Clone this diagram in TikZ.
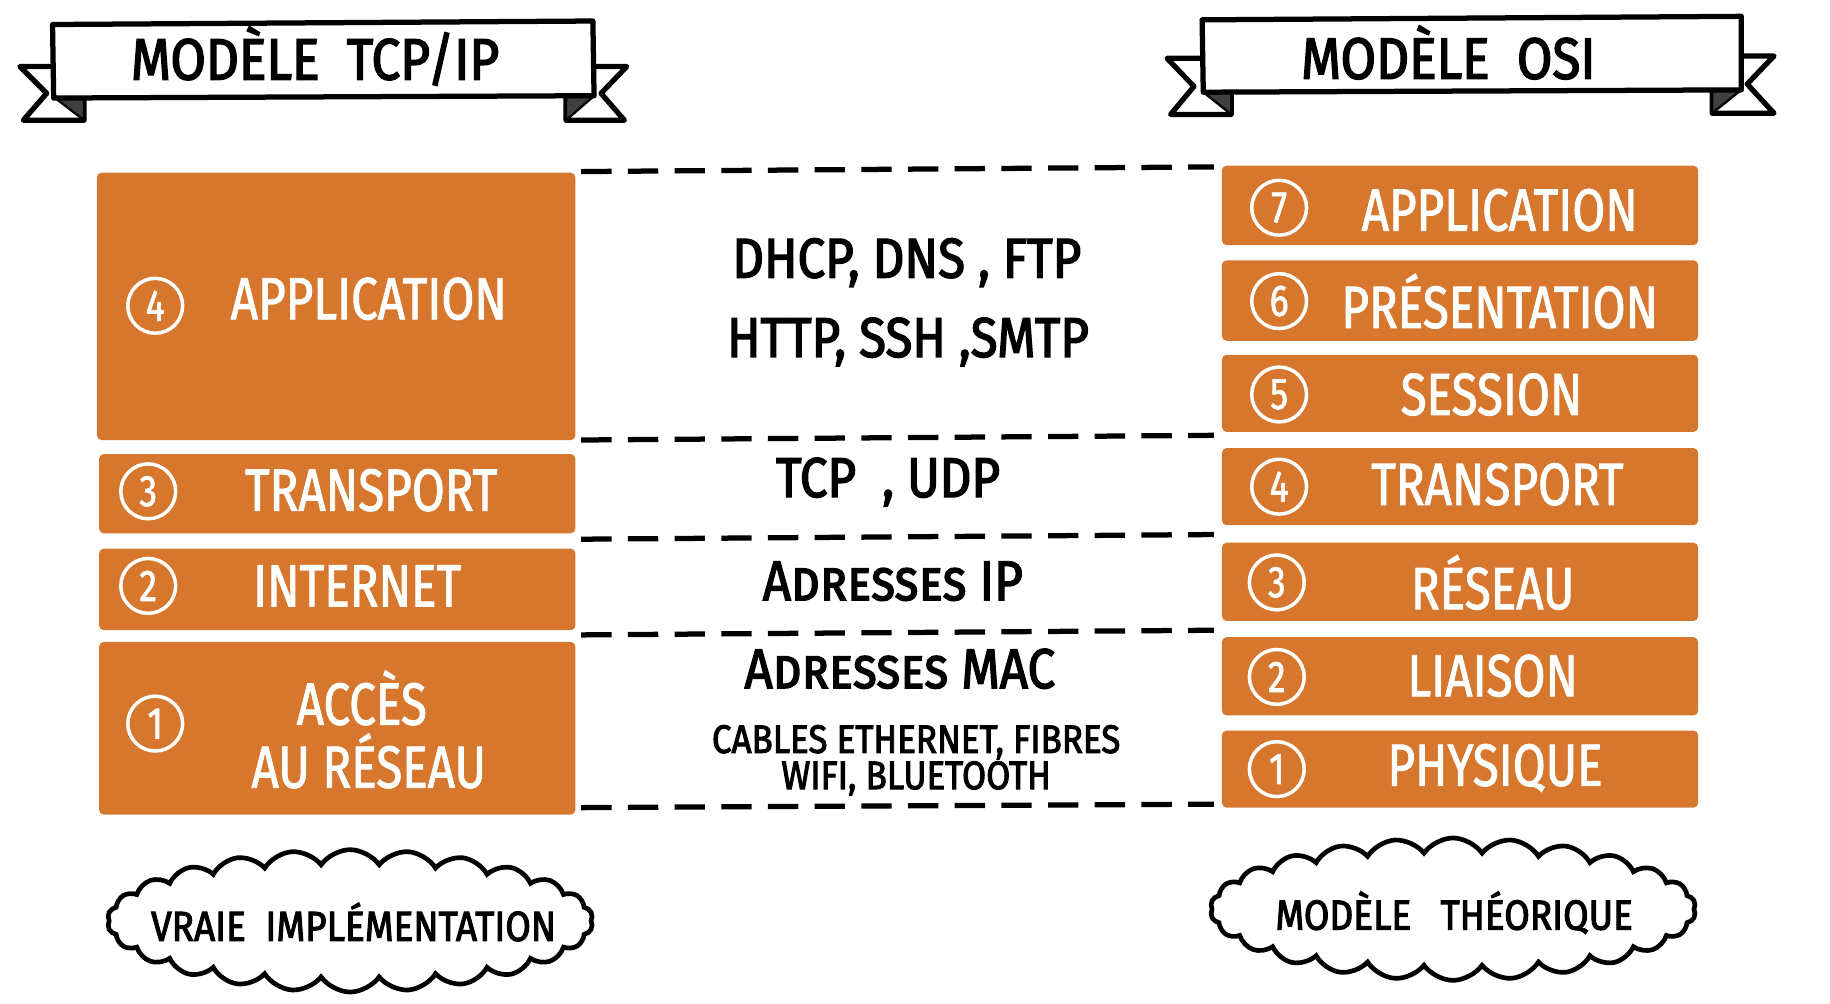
\documentclass[tikz,border=0pt]{standalone}
\usepackage{fontspec}
\setmainfont{Fira Sans}[FakeStretch=0.8]
\newfontfamily\layerfont{Fira Sans}[FakeStretch=0.8, FakeBold=1.5]
\newfontfamily\handfont{Fira Sans}[FakeStretch=0.88, FakeBold=2.5]
\usetikzlibrary{shapes.symbols}
\definecolor{layerorange}{RGB}{214,119,45}

\tikzset{
  layer/.style={fill=layerorange, draw=none, rounded corners=4pt, inner sep=0pt, minimum width=408pt},
  layertext/.style={text=white, inner sep=0pt, font=\layerfont\fontsize{51}{54}\selectfont},
  num/.style={circle, draw=white, line width=3pt, text=white, minimum size=47pt, inner sep=0pt, font=\layerfont\fontsize{38}{40}\selectfont},
  proto/.style={inner sep=0pt, font=\handfont\fontsize{48}{50}\selectfont},
  protosmall/.style={inner sep=0pt, font=\handfont\fontsize{34}{36}\selectfont},
  sep/.style={line width=4.5pt, dash pattern=on 26pt off 14pt},
  banner/.style={fill=white, draw=black, line width=4.5pt, line join=round},
  fold/.style={fill=black!75, draw=black, line width=2pt, line join=round},
  bannertext/.style={inner sep=0pt, font=\handfont\fontsize{50}{52}\selectfont},
  bubble/.style={cloud, draw=black, fill=white, line width=4pt, cloud puffs=26, cloud puff arc=110, aspect=3.4, minimum width=416pt, minimum height=122pt, inner sep=0pt},
  bubbletext/.style={inner sep=0pt, font=\handfont\fontsize{36}{38}\selectfont}
}

\begin{document}
\begin{tikzpicture}[x=1pt,y=1pt,yscale=-1,xscale=1]
\useasboundingbox (0,0) rectangle (1568,860);

%Banner TCP/IP
\draw [banner] (45,57) -- (17,57) -- (40,80) -- (20,103) -- (72,103) -- (72,83) ;
\draw [fold] (46,83) -- (72,83) -- (72,103) -- cycle ;
\draw [banner] (508,57) -- (537,57) -- (515,80) -- (535,103) -- (485,103) -- (485,83) ;
\draw [fold] (508,83) -- (485,83) -- (485,103) -- cycle ;
\draw [banner] (45,21) -- (508,18) -- (509,82) -- (46,84) -- cycle ;
% Text Node
\node [bannertext] (titreTCP) at (270,48) {MODÈLE\ \ TCP/IP};

%Banner OSI
\draw [banner] (1030,50) -- (1000,50) -- (1023,74) -- (1003,98) -- (1055,98) -- (1055,79) ;
\draw [fold] (1031,79) -- (1055,79) -- (1055,98) -- cycle ;
\draw [banner] (1492,48) -- (1520,48) -- (1497,72) -- (1520,97) -- (1467,97) -- (1467,77) ;
\draw [fold] (1492,77) -- (1467,77) -- (1467,97) -- cycle ;
\draw [banner] (1030,17) -- (1492,14) -- (1492,77) -- (1031,79) -- cycle ;
% Text Node
\node [bannertext] (titreOSI) at (1241,45) {MODÈLE\ \ OSI};

%Layers TCP/IP
\node [layer, minimum width=410pt, minimum height=229pt] (appL) at (288,262.5) {};
\node [layer, minimum height=68pt] (transL) at (289,423) {};
\node [layer, minimum height=70pt] (interL) at (289,505) {};
\node [layer, minimum height=148pt] (accesL) at (289,624) {};

% Text Node
\node [num] (n4L) at (133,262) {4};
\node [layertext] (tAppL) at (316,256) {APPLICATION};
\node [num] (n3L) at (127,421) {3};
\node [layertext] (tTransL) at (318,420) {TRANSPORT};
\node [num] (n2L) at (127,502) {2};
\node [layertext] (tInterL) at (306,502) {INTERNET};
\node [num] (n1L) at (133,620) {1};
\node [layertext] (tAccesL) at (310,598) {ACCÈS};
\node [layertext] (tReseauL) at (316,652) {AU RÉSEAU};

%Layers OSI
\node [layer, minimum height=68pt] (app7) at (1251,176) {};
\node [layer, minimum height=69pt] (pres6) at (1251,257.5) {};
\node [layer, minimum height=66pt] (sess5) at (1251,337) {};
\node [layer, minimum height=66pt] (trans4) at (1251,417) {};
\node [layer, minimum height=67pt] (res3) at (1251,498.5) {};
\node [layer, minimum height=67pt] (liai2) at (1251,579.5) {};
\node [layer, minimum height=66pt] (phys1) at (1251,659) {};

% Text Node
\node [num] (n7) at (1096,178) {7};
\node [layertext] (tApp7) at (1285,180) {APPLICATION};
\node [num] (n6) at (1096,258) {6};
\node [layertext] (tPres6) at (1285,258) {PRÉSENTATION};
\node [num] (n5) at (1096,338) {5};
\node [layertext] (tSess5) at (1278,338) {SESSION};
\node [num] (n4) at (1096,417) {4};
\node [layertext] (tTrans4) at (1283,415) {TRANSPORT};
\node [num] (n3) at (1094,499) {3};
\node [layertext] (tRes3) at (1279,499) {RÉSEAU};
\node [num] (n2) at (1094,580) {2};
\node [layertext] (tLiai2) at (1279,579) {LIAISON};
\node [num] (n1) at (1094,659) {1};
\node [layertext] (tPhys1) at (1281,658) {PHYSIQUE};

%Dashed separators
\draw [sep] (498,147) -- (1040,143) ;
\draw [sep] (498,377) -- (1040,373) ;
\draw [sep] (498,462) -- (1040,458) ;
\draw [sep] (498,544) -- (1040,540) ;
\draw [sep] (498,692) -- (1040,689) ;

% Text Node
\node [proto] (pApp1) at (777,225) {DHCP, DNS , FTP};
\node [proto] (pApp2) at (778,293) {HTTP, SSH ,SMTP};
\node [proto] (pTrans) at (761,413) {TCP\ \ , UDP};
\node [proto] (pInter) at (765,498) {A\textsc{dresses} IP};
\node [proto] (pMac) at (771,573) {A\textsc{dresses} MAC};
\node [protosmall] (pCables) at (785,636) {CABLES ETHERNET, FIBRES};
\node [protosmall] (pWifi) at (785,667) {WIFI, BLUETOOTH};

%Clouds
\node [bubble] (cloudL) at (300,789) {};
\node [bubbletext] (tCloudL) at (303,790) {VRAIE\ \ IMPLÉMENTATION};
\node [bubble] (cloudR) at (1245,779) {};
\node [bubbletext] (tCloudR) at (1246,782) {MODÈLE\ \ \ THÉORIQUE};

\end{tikzpicture}
\end{document}
